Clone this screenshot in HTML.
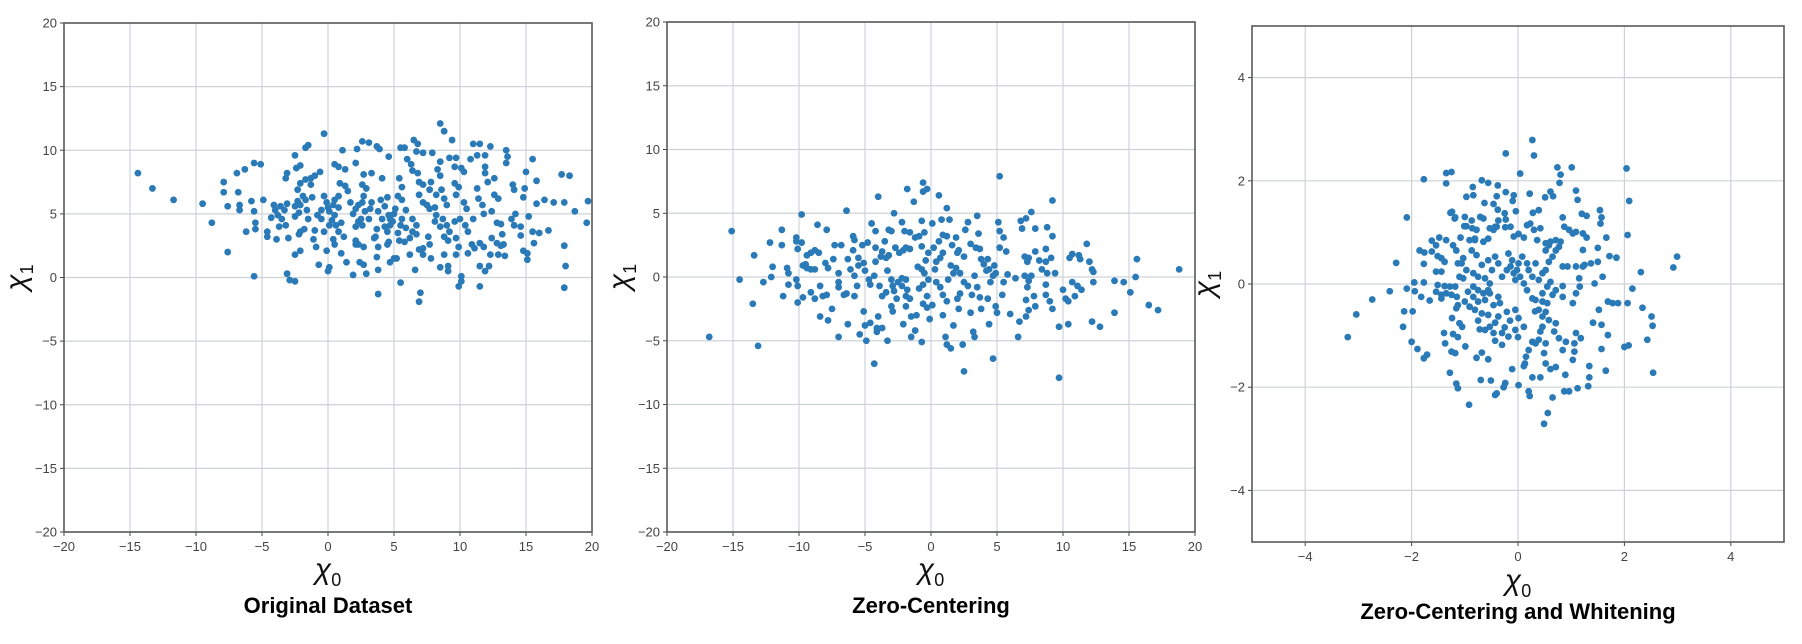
<!DOCTYPE html>
<html><head><meta charset="utf-8">
<style>
html,body{margin:0;padding:0;background:#fff;}
svg{display:block;}
text{font-family:"Liberation Sans",sans-serif;}
</style></head>
<body>
<svg id="fig" width="1802" height="644" viewBox="0 0 1802 644" xmlns="http://www.w3.org/2000/svg"></svg>
<script>
// ---------- data ----------
const p1x=[-14.4,-13.3,-11.7,-9.5,-8.8,-7.6,-7.9,-7.9,-7.6,-6.9,-6.8,-6.7,-6.7,-6.3,-6.2,-5.8,-5.6,-5.5,-5.5,-5.6,-5.6,-5.1,-4.9,-4.6,-4.6,-4.3,-4.1,-3.9,-3.6,-3.3,-3.8,-3.5,-3.7,-3.2,-3.1,-4.0,-3.0,-3.1,-2.9,-2.5,-3.2,-3.1,-2.4,-2.1,-2.5,-1.7,-1.5,-2.5,-2.3,-2.5,-2.2,-2.1,-1.9,-1.7,-1.6,-1.5,-2.3,-2.1,-1.7,-1.3,-1.0,-0.6,-1.3,-1.2,-2.2,-2.1,-1.8,-2.5,-2.1,-1.0,-1.1,-0.9,-0.7,-0.1,-0.3,-0.3,-0.1,0.0,0.1,0.4,0.5,0.8,0.8,0.5,0.3,0.1,0.6,1.0,0.8,0.4,0.5,-0.3,-0.5,-0.5,-0.8,0.0,0.1,0.5,0.8,1.3,1.1,0.9,1.3,1.5,1.7,1.0,1.2,1.4,1.9,2.1,2.1,2.2,2.6,3.1,2.7,3.3,1.9,2.1,2.3,2.6,2.7,2.3,2.1,2.6,2.5,2.8,3.1,3.2,3.3,2.9,2.6,2.1,2.3,2.7,2.4,2.7,2.9,3.5,3.6,3.7,3.8,3.8,3.7,3.9,4.6,4.1,4.5,4.0,4.3,3.8,4.1,4.3,3.7,4.6,4.7,4.9,5.0,5.1,4.7,4.5,4.6,4.5,4.7,5.0,5.2,5.5,3.8,5.4,5.6,5.3,5.6,5.9,5.6,5.5,5.9,5.3,5.4,5.8,6.2,6.4,6.7,6.4,6.7,5.5,5.8,6.5,6.8,6.7,7.2,7.9,6.0,6.3,6.4,6.8,6.9,7.2,6.9,7.2,7.5,7.7,6.6,6.9,7.2,7.2,7.7,7.6,7.8,7.0,6.9,6.2,8.5,8.8,9.4,8.5,8.3,8.5,7.8,7.7,8.2,8.6,8.8,9.0,8.1,8.2,8.1,8.5,8.7,9.0,9.2,8.8,9.1,8.5,9.1,9.1,8.8,9.9,10.1,10.1,9.7,9.9,9.7,9.2,9.7,9.6,10.1,11.0,11.5,10.8,11.3,9.6,9.9,10.3,9.7,10.3,10.5,10.0,9.6,10.4,10.6,11.0,11.3,11.4,11.7,11.8,10.9,11.1,11.5,11.8,11.5,11.9,10.6,11.5,12.2,12.4,12.3,11.9,11.9,11.9,12.1,12.3,12.6,12.6,12.9,12.4,12.8,13.1,13.2,12.8,13.1,13.3,12.9,13.4,13.5,13.6,13.5,14.0,14.1,14.2,13.9,14.8,14.9,15.0,15.2,14.1,14.6,14.6,14.8,15.1,15.1,15.5,15.5,15.6,15.8,15.8,16.0,16.4,16.7,17.1,17.7,18.3,17.9,18.7,19.7,19.6,17.9,18.0,17.9];
const p1y=[8.2,7.0,6.1,5.8,4.3,2.0,7.5,6.7,5.6,8.2,6.7,5.7,5.3,8.5,3.6,6.0,5.2,4.3,3.8,0.1,9.0,8.9,6.1,3.6,3.2,4.7,5.7,3.0,5.6,5.3,4.9,4.6,4.0,4.1,5.8,5.3,3.1,0.3,-0.2,-0.3,7.8,8.2,8.6,8.8,9.6,10.2,10.4,5.6,6.0,4.8,5.1,5.7,6.4,6.1,5.3,4.6,6.9,7.4,7.7,7.8,8.0,8.3,7.3,6.3,3.4,3.6,3.8,1.8,2.1,3.7,3.0,2.4,1.0,2.1,11.3,6.4,5.9,5.5,5.2,5.7,6.1,6.4,5.5,4.9,4.5,4.1,4.1,4.3,3.6,3.0,2.6,3.6,4.6,5.3,4.9,0.5,0.8,8.9,8.7,8.5,10.0,7.4,7.2,6.8,5.9,1.9,3.2,1.2,0.2,2.6,9.0,10.1,10.7,10.6,8.1,8.2,5.0,5.4,5.7,5.9,6.4,4.4,4.0,4.1,4.6,5.2,4.6,5.4,5.9,7.0,7.3,2.9,2.6,2.4,1.2,1.0,0.3,3.1,3.2,1.6,0.6,2.4,10.3,10.1,9.5,7.8,6.3,6.1,5.6,5.2,4.6,4.0,3.8,4.9,4.6,4.4,5.0,5.4,4.1,3.6,2.8,2.6,1.2,1.5,1.5,-0.4,-1.3,7.8,7.1,6.4,6.1,5.3,4.6,4.1,3.9,3.5,2.9,2.8,3.1,3.6,3.4,4.6,4.1,10.2,10.2,10.8,10.5,9.9,9.8,9.8,9.3,8.9,8.4,8.2,7.5,7.3,6.5,5.9,5.7,5.4,0.6,2.2,2.3,1.8,2.6,3.2,1.5,-1.2,-1.9,1.8,12.1,11.5,10.8,9.1,8.5,8.0,7.5,6.9,6.5,6.9,6.2,5.7,5.5,4.9,4.4,4.0,4.6,4.1,3.6,3.2,2.9,0.8,0.9,0.5,1.8,-0.7,-0.3,0.1,1.8,2.4,3.1,9.4,9.4,8.7,8.6,10.5,10.5,9.3,9.6,7.4,7.1,8.3,6.5,5.9,5.4,4.6,4.4,4.1,3.6,4.6,7.0,6.2,5.7,5.0,2.6,2.3,2.7,2.4,0.9,0.5,1.9,-0.7,0.9,3.1,1.8,9.6,8.7,8.2,7.5,10.3,7.8,6.5,6.2,5.2,4.3,4.2,3.4,2.7,2.5,2.6,1.8,1.7,10.0,9.5,9.0,7.3,6.9,5.0,4.6,6.3,7.0,8.3,4.8,4.1,4.0,3.3,2.1,1.9,1.4,9.3,3.6,2.7,7.6,5.8,3.5,6.1,3.7,5.9,8.1,8.0,5.9,5.2,6.0,4.3,2.5,0.9,-0.8];

const p2x=[-16.8,-15.1,-14.5,-13.5,-13.4,-13.1,-12.7,-12.2,-12.1,-12.0,-11.3,-11.3,-11.2,-10.9,-10.8,-10.8,-10.2,-10.2,-10.1,-9.8,-10.2,-10.1,-10.1,-9.8,-9.7,-9.7,-9.5,-9.4,-9.1,-8.8,-9.4,-9.1,-8.8,-8.5,-8.6,-7.9,-9.1,-8.8,-8.4,-8.2,-7.9,-8.4,-7.8,-7.5,-8.0,-7.8,-7.4,-7.3,-7.0,-7.0,-7.0,-6.6,-6.4,-7.0,-6.8,-6.4,-6.3,-6.1,-5.9,-5.8,-5.9,-5.8,-5.6,-5.8,-5.5,-5.5,-6.3,-5.4,-5.1,-5.0,-4.9,-4.6,-4.3,-4.1,-4.1,-3.7,-3.3,-4.0,-5.2,-4.8,-4.5,-4.2,-4.2,-4.0,-5.1,-5.0,-4.7,-4.6,-4.3,-4.2,-3.8,-3.7,-3.4,-3.2,-3.5,-3.2,-3.0,-2.8,-3.9,-3.7,-3.4,-3.3,-3.0,-2.9,-2.8,-3.0,-2.9,-2.6,-2.5,-2.2,-1.9,-2.2,-1.8,-1.9,-1.6,-1.9,-2.1,-1.5,-1.1,-1.2,-1.5,-2.7,-2.4,-2.1,-1.9,-1.6,-2.2,-1.8,-1.3,-0.7,-0.6,-0.6,-0.3,-2.0,-1.6,-1.2,-0.7,-0.9,-0.5,-0.4,-0.2,0.1,0.6,0.8,1.2,1.4,-1.0,-0.7,-0.5,-0.2,-0.6,-0.9,-0.3,-0.6,-0.3,0.1,-0.1,-0.7,0.3,0.4,0.7,0.9,0.2,0.6,0.9,1.2,1.6,1.9,2.0,2.1,2.5,0.4,0.7,0.9,1.2,0.9,1.1,1.2,1.5,1.7,2.0,2.2,2.1,2.4,2.5,3.0,3.2,3.3,2.8,2.5,2.2,1.7,1.3,1.5,1.9,2.6,2.8,3.0,3.4,3.6,3.5,3.7,3.8,4.0,4.3,4.2,4.4,4.7,4.8,4.9,4.5,4.3,4.4,4.7,4.9,5.0,5.2,5.1,5.2,5.5,5.2,5.7,5.8,5.4,6.0,3.3,3.5,3.7,3.8,3.1,5.5,6.4,6.6,6.7,6.8,6.9,7.2,7.6,7.9,7.1,7.3,7.4,7.9,8.2,7.1,7.6,7.3,7.4,7.2,7.8,7.9,7.2,7.4,8.7,8.7,9.1,8.8,9.4,8.4,8.8,9.2,9.2,8.7,8.7,9.0,9.2,9.7,9.7,10.0,10.2,10.4,10.4,10.5,10.7,10.7,10.9,11.1,11.4,11.2,11.3,11.8,12.0,12.2,12.3,12.3,12.2,12.8,13.9,13.9,14.6,15.1,15.5,15.6,16.5,17.2,18.8];
const p2y=[-4.7,3.6,-0.2,-2.1,1.7,-5.4,-0.4,2.7,0.0,0.8,3.7,2.5,-1.5,0.7,0.3,-0.6,3.1,2.8,2.2,2.7,-0.2,-0.7,-2.0,4.9,-1.6,0.9,1.0,0.7,0.6,0.6,1.7,1.9,2.1,1.9,4.1,3.7,-1.2,-1.7,-0.7,-1.5,-1.4,-3.1,-3.4,-2.5,1.1,0.7,1.4,2.5,0.3,-0.4,-0.8,-1.4,-1.3,-4.7,2.5,5.2,1.4,0.6,3.2,2.9,2.1,0.1,-0.7,-1.5,0.9,1.5,-3.7,-4.5,-2.7,-3.8,-5.0,-3.6,-6.8,-4.0,-4.3,-4.0,-5.0,-3.1,2.5,2.7,4.2,3.6,2.3,6.3,1.1,0.5,-0.2,-0.6,0.1,1.2,1.6,2.0,1.5,1.7,2.8,3.7,3.6,5.0,-0.7,-1.5,-1.2,0.5,-0.2,-0.7,-1.1,-2.3,-2.7,-1.7,-0.4,-0.1,-0.2,-0.7,-1.0,-1.5,-1.7,-2.3,-3.7,-3.1,-3.0,-4.2,-4.7,2.3,1.9,2.1,2.3,2.2,4.3,6.9,5.9,4.4,7.4,6.7,6.9,3.6,3.5,3.1,2.4,3.2,3.5,1.3,1.9,4.2,6.4,4.5,5.4,4.5,0.8,0.6,0.3,-0.2,-0.6,-0.9,-1.5,-2.1,-2.4,-2.2,-3.3,-5.1,0.6,1.2,1.5,1.9,2.3,2.8,3.3,3.2,2.5,3.1,1.9,2.1,1.6,-0.4,-0.8,-1.4,-1.9,-3.0,-4.7,-5.3,-5.6,-3.8,-1.7,-1.3,-2.5,-5.3,-7.4,-2.8,-4.3,-4.7,-0.7,-0.4,0.3,0.3,-0.2,0.9,0.7,3.7,4.3,2.6,2.3,3.4,4.8,2.2,1.4,1.0,1.4,0.5,0.6,0.1,0.9,0.3,-0.4,-1.7,-3.7,-6.4,-2.3,-2.8,7.9,4.3,3.6,3.1,2.3,2.0,0.2,-1.4,-2.9,0.1,-0.8,-1.6,-2.5,-1.4,-0.4,-0.1,-4.7,-3.5,4.4,3.8,4.6,5.1,3.8,1.6,1.2,1.5,2.0,1.3,0.1,0.1,-0.8,-0.3,-1.8,-1.5,-2.3,-3.1,-2.6,1.2,2.2,1.5,0.3,0.3,0.6,3.9,6.0,3.2,-0.6,-1.4,-1.9,-2.5,-3.9,-7.9,-1.0,-1.7,-1.9,-3.7,1.5,1.8,-0.4,-1.5,-0.7,-1.0,1.7,1.4,2.6,1.2,0.6,0.4,-0.4,-3.5,-3.9,-0.3,-2.8,-0.4,-1.2,0.0,1.4,-2.2,-2.6,0.6];

const p3x=[-3.2,-3.04,-2.74,-2.41,-2.29,-2.16,-2.14,-1.98,-2.09,-2.09,-1.95,-1.94,-1.82,-1.77,-1.77,-1.85,-1.76,-1.66,-2.0,-1.89,-1.77,-1.71,-1.77,-1.62,-1.54,-1.48,-1.35,-1.62,-1.51,-1.44,-1.38,-1.54,-1.44,-1.51,-1.38,-1.28,-1.18,-1.54,-1.44,-1.35,-1.25,-1.15,-1.44,-1.35,-1.25,-1.35,-1.27,-1.19,-1.22,-1.16,-1.08,-1.03,-1.06,-1.10,-1.03,-1.13,-1.16,-1.24,-1.10,-1.05,-1.39,-1.37,-1.22,-1.13,-0.99,-1.25,-1.18,-1.28,-1.16,-1.13,-0.92,-0.97,-0.84,-0.85,-0.68,-0.56,-0.38,-0.23,-0.08,-0.10,-0.40,-0.46,-0.63,-0.38,-0.25,-0.23,-0.04,0.04,0.22,0.28,0.39,0.51,0.61,0.66,0.74,0.80,0.78,1.01,1.09,1.12,-0.23,0.27,0.30,-1.01,-0.87,-0.71,-0.78,-0.91,-0.81,-0.65,-0.56,-0.46,-0.40,-0.24,-0.14,-0.08,0.01,0.11,0.17,0.23,0.30,0.42,0.36,0.52,0.61,0.71,0.80,0.84,0.87,0.96,1.03,1.09,-0.87,-0.78,-0.68,-0.56,-0.49,-0.43,-0.37,-0.30,-0.21,-0.18,-0.11,-0.14,-0.08,-0.05,-0.02,0.01,0.08,0.04,0.11,0.17,0.20,0.27,0.33,0.39,0.46,0.52,0.58,0.65,0.71,0.77,0.58,0.52,0.84,0.93,1.09,1.22,1.25,1.37,1.50,1.59,1.44,1.15,1.16,1.09,1.03,0.84,0.71,0.65,0.84,1.20,1.29,1.54,1.57,1.55,1.66,1.22,1.29,1.50,1.22,1.72,1.85,2.31,2.92,2.99,2.04,2.09,2.06,2.15,2.06,1.88,1.78,1.69,1.52,2.34,2.51,2.53,2.43,2.08,2.0,2.54,1.41,1.57,1.69,1.57,1.65,1.34,1.34,1.32,1.09,1.18,1.06,0.90,0.84,1.06,1.03,0.89,0.87,0.96,1.12,0.71,0.61,0.52,0.49,0.52,0.39,0.33,0.27,0.20,0.15,0.13,0.11,-0.11,0.42,0.68,0.71,0.77,0.58,0.46,0.32,0.27,0.42,0.20,0.22,0.65,0.56,0.49,0.01,-0.24,-0.27,-0.43,-0.40,-0.51,-0.70,-0.56,-0.68,-0.78,-0.30,-0.43,-0.18,0.0,-0.15,0.01,-0.05,-0.21,-0.37,-0.43,-0.53,-0.62,-0.72,-0.75,-0.68,-0.56,-0.46,-0.34,-0.37,-0.53,-0.62,-0.75,-0.84,-0.94,-1.00,-0.91,-0.81,0.17,0.27,0.33,0.46,0.55,0.46,0.55,0.61,0.52,0.39,0.46,0.11,-0.05,-0.25,-0.30,-0.46,-1.24,-1.18,-0.97,-1.00,-0.86,-0.81,-0.65,-0.53,-0.43,-0.37,-1.13,-0.97,-0.84,-0.75,-0.62,-0.53,-0.84,-0.75,-0.65,-0.56];
const p3y=[-1.03,-0.59,-0.30,-0.14,0.41,-0.83,-0.53,-0.53,1.29,-0.09,0.03,-0.14,-0.25,0.03,0.39,0.65,0.61,-0.32,-1.12,-1.26,-1.44,-1.37,2.03,0.84,0.75,0.90,0.85,0.63,0.54,0.50,0.43,0.24,0.24,-0.02,-0.04,-0.05,-0.05,-0.15,-0.21,-0.18,-0.21,-0.25,-0.28,2.15,2.17,1.95,1.38,1.27,0.75,0.65,0.90,0.50,0.40,0.14,0.11,-0.41,-0.47,-0.66,-0.76,-0.83,-0.95,-1.15,-0.97,-1.03,-1.21,-1.31,-1.34,-1.72,-1.93,-2.02,-2.34,1.69,1.72,1.88,2.01,1.96,1.91,1.78,1.72,1.61,1.70,1.55,1.57,1.44,1.37,1.25,1.41,2.14,1.75,1.38,1.43,1.68,1.79,1.70,2.26,2.12,1.96,2.26,1.81,1.63,2.53,2.79,2.49,1.12,1.23,1.30,1.05,0.85,0.88,0.82,0.88,1.05,1.11,1.10,1.11,0.92,0.97,0.90,1.14,1.17,1.05,1.08,0.85,0.79,0.82,0.85,0.82,1.29,1.11,1.05,0.98,1.01,0.65,0.56,0.37,0.46,0.27,0.53,0.40,0.14,0.27,0.59,0.46,0.34,0.21,0.08,0.27,0.40,0.53,0.14,0.01,0.40,0.27,0.14,0.40,0.08,0.21,0.27,0.43,0.53,0.65,0.72,0.75,0.65,0.34,0.34,0.34,0.34,0.37,0.40,0.43,0.14,0.01,0.11,-0.05,-0.18,-0.37,-0.04,-0.12,-0.21,-0.25,1.36,1.32,1.43,1.29,1.17,0.90,0.98,0.90,0.70,0.66,0.54,0.51,0.23,0.32,0.53,2.24,1.61,0.95,-0.09,-0.37,-0.37,-0.37,-0.34,-0.50,-0.46,-0.63,-0.81,-1.08,-1.19,-1.22,-1.72,-0.75,-0.79,-0.99,-1.26,-1.68,-1.59,-1.81,-1.98,-0.95,-1.05,-1.15,-1.12,-1.28,-1.31,-1.47,-1.76,-2.08,-2.08,-2.02,-1.61,-1.65,-1.54,-1.34,-1.15,-1.08,-1.15,-1.12,-1.28,-1.41,-1.54,-1.59,-1.65,-0.92,-0.92,-0.76,-1.05,-0.70,-0.63,-0.53,-1.81,-1.81,-2.08,-2.17,-2.20,-2.50,-2.71,-1.96,-1.92,-2.00,-2.15,-2.12,-1.87,-1.86,-1.46,-1.33,-1.43,-1.18,-1.10,-1.02,-1.03,-0.71,-0.66,-0.50,-0.54,-0.63,-0.75,-0.83,-0.89,-0.88,-0.71,-0.57,-0.60,-0.41,-0.37,-0.25,-0.18,-0.31,-0.34,-0.25,-0.15,-0.34,-0.44,-0.50,-0.12,-0.28,-0.31,-0.34,-0.37,-0.18,-0.05,0.04,-0.54,-0.50,-0.83,-0.83,-0.89,-0.84,-0.95,-0.95,1.40,1.29,1.12,1.30,1.08,0.85,1.27,1.08,1.11,1.23,0.40,0.27,0.21,0.14,0.11,0.01,-0.05,-0.12,-0.18,-0.12];

const ticks1=[-20,-15,-10,-5,0,5,10,15,20];
const ticks3=[-4,-2,0,2,4];
const titles=["Original Dataset","Zero-Centering","Zero-Centering and Whitening"];

// ---------- drawing ----------
const NS="http://www.w3.org/2000/svg";
const svg=document.getElementById('fig');
function mk(tag,attrs,parent){const e=document.createElementNS(NS,tag);for(const k in attrs)e.setAttribute(k,attrs[k]);(parent||svg).appendChild(e);return e;}

const panels=[
 {L:64,R:592,T:23,B:532,min:-20,max:20,ticks:ticks1,xs:p1x,ys:p1y,title:titles[0],ty:613,xl:579},
 {L:667,R:1195,T:22,B:532,min:-20,max:20,ticks:ticks1,xs:p2x,ys:p2y,title:titles[1],ty:613,xl:579},
 {L:1252,R:1784,T:26,B:542,min:-5,max:5,ticks:ticks3,xs:p3x,ys:p3y,title:titles[2],ty:619,xl:590}
];

panels.forEach((p,i)=>{
  const g=mk('g',{});
  
  
  const sx=v=>p.L+(v-p.min)/(p.max-p.min)*(p.R-p.L);
  const sy=v=>p.B-(v-p.min)/(p.max-p.min)*(p.B-p.T);
  p.ticks.forEach(t=>{
    const gx=mk('line',{x1:sx(t),x2:sx(t),y1:p.T,y2:p.B,stroke:'#cdd2d9','stroke-width':1.2},g);
    
    
    const gy=mk('line',{x1:p.L,x2:p.R,y1:sy(t),y2:sy(t),stroke:'#cdd2d9','stroke-width':1.2},g);
    
    
    const tx=mk('text',{x:sx(t),y:p.B+19,'text-anchor':'middle','font-size':13,fill:'#444'},g);
    tx.textContent=(t<0?'\u2212'+(-t):''+t);
    
    
    const ty=mk('text',{x:p.L-7,y:sy(t)+4.5,'text-anchor':'end','font-size':13,fill:'#444'},g);
    ty.textContent=(t<0?'\u2212'+(-t):''+t);
    
    
    mk('line',{x1:sx(t),x2:sx(t),y1:p.B,y2:p.B+4,stroke:'#444'},g);
    mk('line',{x1:p.L-4,x2:p.L,y1:sy(t),y2:sy(t),stroke:'#444'},g);
  });
  for(let k=0;k<p.xs.length;k++){
    const c=mk('circle',{cx:sx(p.xs[k]),cy:sy(p.ys[k]),r:3.4,fill:'#2a7ab8'},g);
    
    
  }
  const fr=mk('rect',{x:p.L,y:p.T,width:p.R-p.L,height:p.B-p.T,fill:'none',stroke:'#5a5a5a','stroke-width':1.6},g);
  
  
  const cx=(p.L+p.R)/2, cy=(p.T+p.B)/2;
  const xl=mk('text',{x:cx,y:p.xl,'text-anchor':'middle','font-size':30,fill:'#111','font-family':'Liberation Serif, serif','font-style':'italic'},g);
  xl.innerHTML='\u03C7<tspan font-size="18" font-style="normal" dy="7">0</tspan>';
  
  
  const yx=p.L-38;
  const yl=mk('text',{x:yx,y:cy,'text-anchor':'middle','font-size':30,fill:'#111','font-family':'Liberation Serif, serif','font-style':'italic',transform:'rotate(-90 '+yx+' '+cy+')'},g);
  yl.innerHTML='\u03C7<tspan font-size="18" font-style="normal" dy="7">1</tspan>';
  
  
  const tt=mk('text',{x:cx,y:p.ty,'text-anchor':'middle','font-size':22,'font-weight':'bold',fill:'#000'},g);
  tt.textContent=p.title;
  
  
});
</script>
</body></html>
